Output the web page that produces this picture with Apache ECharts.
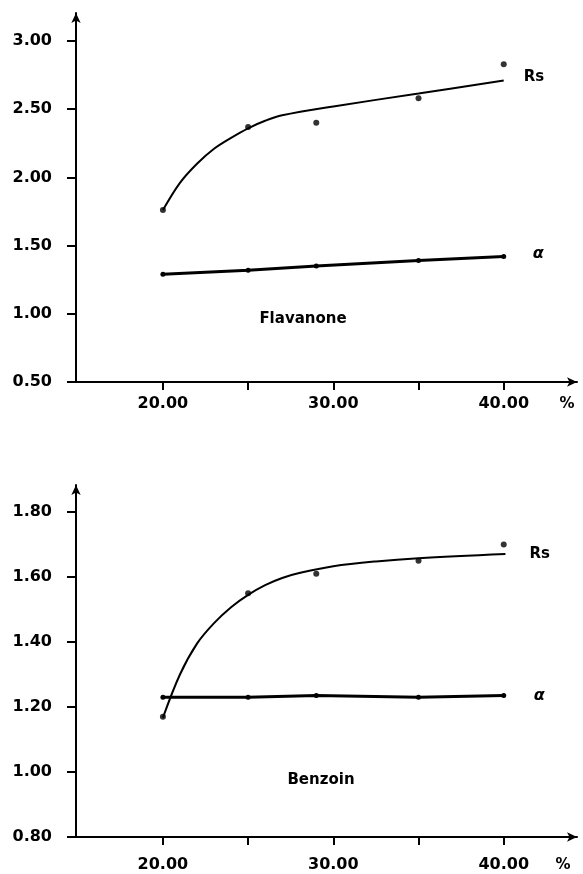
<!DOCTYPE html>
<html>
<head>
<meta charset="utf-8">
<script src="https://cdn.jsdelivr.net/npm/echarts@6/dist/echarts.min.js"></script>
<style>
html,body{margin:0;padding:0;background:#fff;}
#chart{width:583px;height:874px;}
</style>
</head>
<body>
<div id="chart"></div>
<script>
// ---- data ----
const percent = [20, 25, 29, 35, 40];

// Flavanone
const flavRs = [1.76, 2.37, 2.40, 2.58, 2.83];
const flavAlpha = [1.29, 1.32, 1.35, 1.39, 1.42];
const flavRsFitX = [20, 21, 22, 23, 24, 25, 26, 27, 30, 35, 40];
const flavRsFitY = [1.76, 1.96, 2.10, 2.21, 2.29, 2.36, 2.415, 2.455, 2.52, 2.615, 2.71];

// Benzoin
const benzRs = [1.17, 1.55, 1.61, 1.65, 1.70];
const benzAlpha = [1.23, 1.23, 1.235, 1.23, 1.235];
const benzRsFitX = [20, 21, 22, 23, 24, 25, 26, 27, 28, 30, 32.5, 35, 40.1];
const benzRsFitY = [1.167, 1.30, 1.395, 1.458, 1.507, 1.545, 1.575, 1.597, 1.612, 1.633, 1.648, 1.658, 1.671];

// ticks
const xTicks = [20, 25, 30, 35, 40];
const xLabels = [20, 30, 40];
const flavYTicks = [0.5, 1.0, 1.5, 2.0, 2.5, 3.0];
const benzYTicks = [0.8, 1.0, 1.2, 1.4, 1.6, 1.8];

// ---- chart ----
const pairs = (xs, ys) => xs.map((x, i) => [x, ys[i]]);
const FONT = 'DejaVu Sans';
const black = '#000';
const labelStyle = {color: black, fontFamily: FONT, fontWeight: 'bold', fontSize: 16};

function xAxis(gridIndex, margin) {
  return {
    type: 'value', gridIndex: gridIndex, min: 14.9, max: 44.3,
    axisLine: {show: true, onZero: false, lineStyle: {color: black, width: 2},
      symbol: ['none', 'arrow'], symbolSize: [7, 10]},
    axisTick: {show: true, length: 8, lineStyle: {color: black, width: 2}, customValues: xTicks},
    axisLabel: Object.assign({margin: margin, customValues: xLabels,
      formatter: v => v.toFixed(2)}, labelStyle),
    splitLine: {show: false}
  };
}
function yAxis(gridIndex, min, max, ticks) {
  return {
    type: 'value', gridIndex: gridIndex, min: min, max: max,
    axisLine: {show: true, onZero: false, lineStyle: {color: black, width: 2},
      symbol: ['none', 'arrow'], symbolSize: [7, 10]},
    axisTick: {show: true, length: 9, lineStyle: {color: black, width: 2}, customValues: ticks},
    axisLabel: Object.assign({margin: 24, customValues: ticks,
      formatter: v => v.toFixed(2)}, labelStyle),
    splitLine: {show: false}
  };
}
function fitSeries(idx, xs, ys, name, dist, off) {
  return {
    type: 'line', xAxisIndex: idx, yAxisIndex: idx, data: pairs(xs, ys),
    smooth: 0.35, showSymbol: false, symbol: 'none',
    lineStyle: {color: black, width: 2}, silent: true, animation: false,
    endLabel: {show: true, formatter: name, distance: dist, offset: off,
      color: black, fontFamily: FONT, fontWeight: 'bold', fontSize: 15}
  };
}
function pointSeries(idx, ys) {
  return {
    type: 'scatter', xAxisIndex: idx, yAxisIndex: idx, data: pairs(percent, ys),
    symbol: 'circle', symbolSize: 6, itemStyle: {color: black}, silent: true, animation: false
  };
}
function alphaSeries(idx, ys, dist, off) {
  return {
    type: 'line', xAxisIndex: idx, yAxisIndex: idx, data: pairs(percent, ys),
    symbol: 'circle', symbolSize: 5, itemStyle: {color: black},
    lineStyle: {color: black, width: 3}, silent: true, animation: false,
    endLabel: {show: true, formatter: 'α', distance: dist, offset: off,
      color: black, fontFamily: FONT, fontWeight: 'bold', fontStyle: 'italic', fontSize: 16}
  };
}

const chart = echarts.init(document.getElementById('chart'), null, {renderer: 'canvas'});
chart.setOption({
  backgroundColor: '#fff',
  animation: false,
  grid: [
    {left: 76, right: 6, top: 13, height: 369},
    {left: 76, right: 6, top: 485, height: 352}
  ],
  xAxis: [xAxis(0, 14), xAxis(1, 20)],
  yAxis: [yAxis(0, 0.5, 3.205, flavYTicks), yAxis(1, 0.8, 1.883, benzYTicks)],
  series: [
    fitSeries(0, flavRsFitX, flavRsFitY, 'Rs', 20, [0, -3]),
    pointSeries(0, flavRs),
    alphaSeries(0, flavAlpha, 29, [0, -3]),
    fitSeries(1, benzRsFitX, benzRsFitY, 'Rs', 24, [0, 0]),
    pointSeries(1, benzRs),
    alphaSeries(1, benzAlpha, 30, [0, 0])
  ],
  graphic: [
    {type: 'text', x: 303, y: 319, style: {text: 'Flavanone', fill: black, font: 'bold 15px "DejaVu Sans"', textAlign: 'center', textVerticalAlign: 'middle'}},
    {type: 'text', x: 321, y: 780, style: {text: 'Benzoin', fill: black, font: 'bold 15px "DejaVu Sans"', textAlign: 'center', textVerticalAlign: 'middle'}},
    {type: 'text', x: 567, y: 404, style: {text: '%', fill: black, font: 'bold 15px "DejaVu Sans"', textAlign: 'center', textVerticalAlign: 'middle'}},
    {type: 'text', x: 563, y: 865, style: {text: '%', fill: black, font: 'bold 15px "DejaVu Sans"', textAlign: 'center', textVerticalAlign: 'middle'}}
  ]
});
</script>
</body>
</html>
